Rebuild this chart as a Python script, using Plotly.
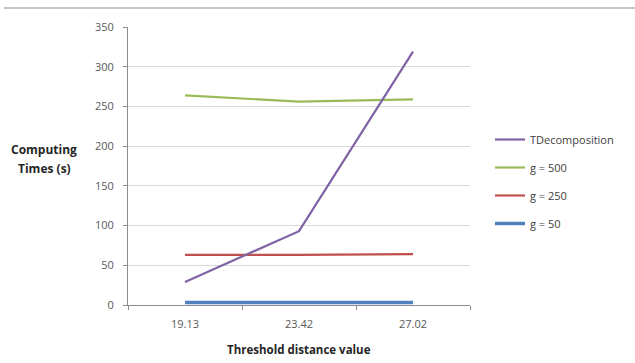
import plotly.graph_objects as go

categories = ["19.13", "23.42", "27.02"]
tdecomp = [29, 93, 319]
g500 = [264, 256, 259]
g250 = [63, 63, 64]
g50 = [3, 3, 3]
y_ticks = [0, 50, 100, 150, 200, 250, 300, 350]

series = [
    ("g = 50", g50, "#4F81BD", 3.5, 4),
    ("g = 250", g250, "#C0504D", 2.2, 3),
    ("g = 500", g500, "#9BBB59", 2.2, 2),
    ("TDecomposition", tdecomp, "#7F63A5", 2.2, 1),
]

fig = go.Figure()
for name, vals, color, w, rank in series:
    fig.add_trace(go.Scatter(
        x=categories, y=vals, mode="lines", name=name,
        legendgroup=name, legendrank=rank,
        line=dict(color=color, width=w),
    ))

W, H = 635, 363
L, R, T, B = 128, 165, 27, 58
pw, ph = W - L - R, H - T - B

font_family = "Open Sans, Liberation Sans, sans-serif"

fig.update_layout(
    width=W, height=H,
    margin=dict(l=L, r=R, t=T, b=B),
    paper_bgcolor="white", plot_bgcolor="white",
    font=dict(family=font_family, size=11, color="#404040"),
    showlegend=True,
    legend=dict(
        x=(490 - L) / pw, y=1 - (125 - T) / ph, xanchor="left", yanchor="top",
        traceorder="grouped", tracegroupgap=9,
        font=dict(size=11, color="#404040"),
        bgcolor="rgba(0,0,0,0)",
    ),
    xaxis=dict(
        type="category", range=[-0.5, 2.5],
        showgrid=False, showline=True, linecolor="#8c8c8c", linewidth=1,
        ticks="outside", tickson="boundaries", ticklen=4, tickcolor="#8c8c8c",
        tickfont=dict(size=11, color="#595959"), ticklabelstandoff=9,
        zeroline=False,
    ),
    yaxis=dict(
        range=[0, 350], tickvals=y_ticks,
        showgrid=True, gridcolor="#d9d9d9", gridwidth=1,
        showline=True, linecolor="#8c8c8c", linewidth=1,
        ticks="outside", ticklen=4, tickcolor="#8c8c8c",
        tickfont=dict(size=11, color="#595959"), ticklabelstandoff=7,
        zeroline=False,
    ),
    annotations=[
        dict(text="<b>Computing</b>", xref="paper", yref="paper",
             x=(44 - L) / pw, y=1 - (149 - T) / ph, xanchor="center", yanchor="middle",
             showarrow=False, font=dict(size=12, color="#262626")),
        dict(text="<b>Times (s)</b>", xref="paper", yref="paper",
             x=(44 - L) / pw, y=1 - (168 - T) / ph, xanchor="center", yanchor="middle",
             showarrow=False, font=dict(size=12, color="#262626")),
        dict(text="<b>Threshold distance value</b>", xref="paper", yref="paper",
             x=0.5, y=1 - (349 - T) / ph, xanchor="center", yanchor="middle",
             showarrow=False, font=dict(size=11.5, color="#262626")),
    ],
    shapes=[
        dict(type="line", xref="paper", yref="paper",
             x0=(4 - L) / pw, x1=(635 - L) / pw,
             y0=1 + (T - 8) / ph, y1=1 + (T - 8) / ph,
             line=dict(color="#c4c4c4", width=2)),
    ],
)

fig.write_html("out.html")
